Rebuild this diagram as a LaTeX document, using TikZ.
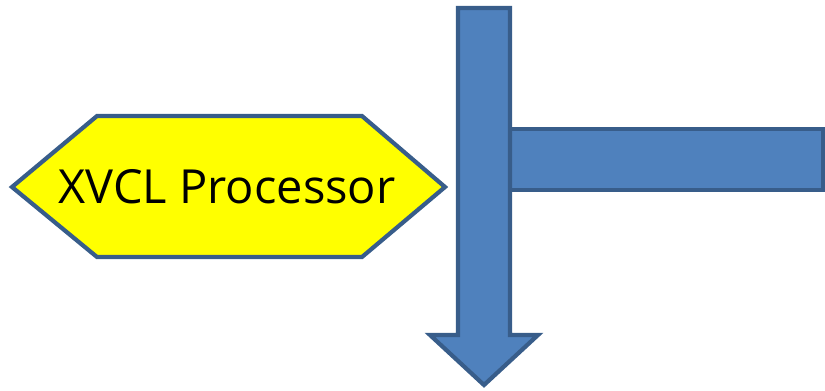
\documentclass[tikz,border=0pt]{standalone}
\usepackage{fontspec}
\setmainfont{Open Sans}
\definecolor{my_blue}{HTML}{4F81BD}
\definecolor{my_border}{HTML}{385D8A}
\definecolor{my_yellow}{HTML}{FFFF00}
\begin{document}
\begin{tikzpicture}[
    x=1pt, y=-1pt,
    block/.style={fill=my_blue, draw=my_border, line width=4.2pt, line join=miter},
    hexa/.style={fill=my_yellow, draw=my_border, line width=4.2pt, line join=miter}
]
\useasboundingbox (0, 0) rectangle (825, 391);

% ===== Prozessor =====
\draw[hexa] (12, 187) -- (97, 116) -- (362, 116) -- (445, 187)
    -- (362, 257) -- (97, 257) -- cycle;
\node[font=\fontsize{47}{50}\selectfont, inner sep=0pt] (proc) at (227, 187)
    {XVCL Processor};

% ===== Balken nach rechts =====
\draw[block] (500, 129) rectangle (823, 190);

% ===== Pfeil nach unten =====
\draw[block] (458, 8) -- (510, 8) -- (510, 335) -- (538, 335)
    -- (484, 385) -- (430, 335) -- (458, 335) -- cycle;

\end{tikzpicture}
\end{document}
